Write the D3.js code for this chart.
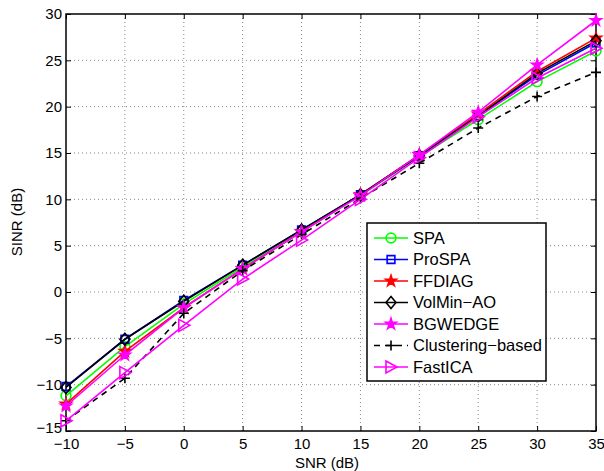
<!DOCTYPE html>
<html><head><meta charset="utf-8">
<script src="https://cdn.jsdelivr.net/npm/d3@7"></script>
<style>body{margin:0;background:#fff}svg{display:block}text{font-family:"Liberation Sans",Arial,sans-serif}</style>
</head><body><svg id="c" width="604" height="471"></svg>
<script>
const snr = [-10, -5, 0, 5, 10, 15, 20, 25, 30, 35];
const spa        = [-11.2, -5.9, -1.3, 2.7, 6.5, 10.4, 14.6, 18.6, 22.7, 26.0];
const prospa     = [-10.2, -5.1, -0.9, 2.9, 6.7, 10.5, 14.7, 19.0, 23.4, 26.9];
const ffdiag     = [-12.1, -6.4, -1.7, 2.5, 6.5, 10.5, 14.8, 19.2, 23.8, 27.4];
const volmin     = [-10.3, -5.1, -1.0, 2.9, 6.7, 10.5, 14.7, 19.0, 23.6, 27.1];
const bgwedge    = [-12.3, -6.8, -1.7, 2.5, 6.5, 10.4, 14.8, 19.4, 24.5, 29.3];
const clustering = [-13.9, -9.3, -2.3, 2.3, 6.2, 10.1, 13.9, 17.7, 21.1, 23.7];
const fastica    = [-13.9, -8.7, -3.6, 1.4, 5.6, 10.0, 14.5, 18.9, 23.1, 26.3];
const xTicks = [-10, -5, 0, 5, 10, 15, 20, 25, 30, 35];
const yTicks = [-15, -10, -5, 0, 5, 10, 15, 20, 25, 30];
const seriesNames = ["SPA", "ProSPA", "FFDIAG", "VolMin\u2212AO", "BGWEDGE", "Clustering\u2212based", "FastICA"];
const seriesValues = [spa, prospa, ffdiag, volmin, bgwedge, clustering, fastica];
const seriesColors = ["#00ff00", "#0000ff", "#ff0000", "#000000", "#ff00ff", "#000000", "#ff00ff"];
const seriesMarkers = ["circle", "square", "star", "diamond", "star", "plus", "triangle"];
const seriesDash = [null, null, null, null, null, "6,5", null];

const svg = d3.select("#c");
const L = 66, R = 596, T = 14, B = 431;
const x = d3.scaleLinear().domain([-10, 35]).range([L, R]);
const y = d3.scaleLinear().domain([-15, 30]).range([B, T]);

// grid
const g = svg.append("g");
g.selectAll(".gx").data(xTicks.slice(1, -1)).join("line")
  .attr("x1", d => x(d)).attr("x2", d => x(d)).attr("y1", T).attr("y2", B)
  .attr("stroke", "#888").attr("stroke-width", 1).attr("stroke-dasharray", "1,3");
g.selectAll(".gy").data(yTicks.slice(1, -1)).join("line")
  .attr("y1", d => y(d)).attr("y2", d => y(d)).attr("x1", L).attr("x2", R)
  .attr("stroke", "#888").attr("stroke-width", 1).attr("stroke-dasharray", "1,3");

// axes
const ax = d3.axisBottom(x).tickValues(xTicks).tickSize(-5).tickPadding(10)
  .tickFormat(d => d < 0 ? "\u2212" + Math.abs(d) : d);
const ay = d3.axisLeft(y).tickValues(yTicks).tickSize(-5).tickPadding(4)
  .tickFormat(d => d < 0 ? "\u2212" + Math.abs(d) : d);
const gx = svg.append("g").attr("transform", `translate(0,${B})`).call(ax);
const gy = svg.append("g").attr("transform", `translate(${L},0)`).call(ay);
svg.append("g").attr("transform", `translate(0,${T})`).call(d3.axisTop(x).tickValues(xTicks).tickSize(-5).tickFormat(""));
svg.append("g").attr("transform", `translate(${R},0)`).call(d3.axisRight(y).tickValues(yTicks).tickSize(-5).tickFormat(""));
svg.selectAll(".domain").remove();
svg.selectAll(".tick line").attr("stroke", "#000");
svg.selectAll(".tick text").attr("font-size", 15).attr("fill", "#000").attr("font-family", "Liberation Sans, Arial, sans-serif");
gx.selectAll(".tick text").attr("dy", "0.55em");
gy.selectAll(".tick text").filter(d => d === -15).attr("dy", "0.1em");
svg.append("rect").attr("x", L).attr("y", T).attr("width", R - L).attr("height", B - T)
  .attr("fill", "none").attr("stroke", "#000").attr("stroke-width", 1.5);

function markerPath(type) {
  switch (type) {
    case "circle": return d3.symbol(d3.symbolCircle, 75)();
    case "square": return d3.symbol(d3.symbolSquare, 60)();
    case "star": return d3.symbol(d3.symbolStar, 36)();
    case "diamond": return "M0,-6L5,0L0,6L-5,0Z";
    case "plus": return "M-5,0H5M0,-5V5";
    case "triangle": return "M-5,-6L6,0L-5,6Z";
  }
}

const line = d3.line().x((d, i) => x(snr[i])).y(d => y(d));
seriesValues.forEach((vals, k) => {
  const c = seriesColors[k];
  svg.append("path").datum(vals).attr("d", line).attr("fill", "none")
    .attr("stroke", c).attr("stroke-width", 1.6)
    .attr("stroke-dasharray", seriesDash[k]);
  const isStar = seriesMarkers[k] === "star";
  svg.append("g").selectAll("path").data(vals).join("path")
    .attr("d", markerPath(seriesMarkers[k]))
    .attr("transform", (d, i) => `translate(${x(snr[i])},${y(d)})`)
    .attr("fill", isStar ? c : "none").attr("stroke", c).attr("stroke-width", 1.6)
    .attr("stroke-linejoin", "miter");
});

// legend
const lg = svg.append("g");
lg.append("rect").attr("x", 367).attr("y", 223).attr("width", 179).attr("height", 158)
  .attr("fill", "#fff").attr("stroke", "#000").attr("stroke-width", 1.5);
seriesNames.forEach((name, k) => {
  const yy = 238 + k * 21.5;
  const c = seriesColors[k];
  lg.append("line").attr("x1", 374).attr("x2", 408).attr("y1", yy).attr("y2", yy)
    .attr("stroke", c).attr("stroke-width", 1.6).attr("stroke-dasharray", seriesDash[k]);
  lg.append("path").attr("d", markerPath(seriesMarkers[k])).attr("transform", `translate(391,${yy})`)
    .attr("fill", seriesMarkers[k] === "star" ? c : "none").attr("stroke", c).attr("stroke-width", 1.6);
  lg.append("text").attr("x", 413).attr("y", yy).attr("dy", "0.36em").attr("font-size", 16.5).text(name);
});

svg.append("text").attr("x", 327).attr("y", 468).attr("text-anchor", "middle").attr("font-size", 15).text("SNR (dB)");
svg.append("text").attr("transform", "translate(22,222) rotate(-90)").attr("text-anchor", "middle").attr("font-size", 15).text("SINR (dB)");
</script></body></html>
